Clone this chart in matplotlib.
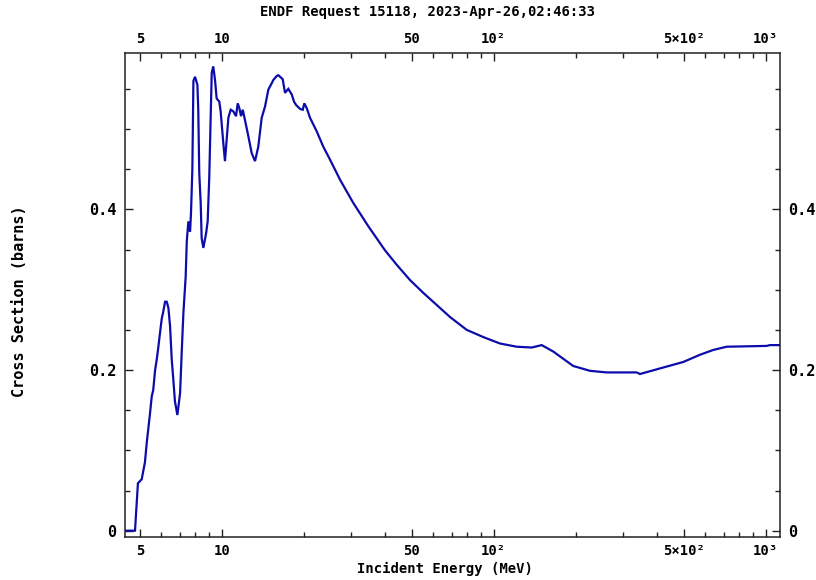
import matplotlib
matplotlib.use("Agg")
import matplotlib.pyplot as plt
from matplotlib.ticker import FixedLocator, NullFormatter, FixedFormatter

# ---- data ----
energy_mev = [4.41, 4.80, 4.84, 4.92, 5.08, 5.22, 5.30, 5.45, 5.53, 5.60, 5.69, 5.77,
              5.85, 5.93, 6.02, 6.10, 6.19, 6.28, 6.37, 6.46, 6.55, 6.64, 6.73, 6.87,
              7.03, 7.13, 7.23, 7.37, 7.44, 7.54, 7.65, 7.71, 7.80, 7.87, 7.98, 8.14,
              8.20, 8.27, 8.37, 8.44, 8.56, 8.76, 8.88, 9.00, 9.19, 9.31, 9.45, 9.58,
              9.80, 9.91, 10.14, 10.28, 10.43, 10.58, 10.79, 11.03, 11.29, 11.45, 11.61,
              11.78, 11.95, 12.18, 12.53, 12.89, 13.26, 13.63, 14.03, 14.43, 14.84, 15.27,
              15.48, 15.93, 16.15, 16.76, 17.09, 17.57, 18.09, 18.45, 18.76, 19.41, 19.86,
              20.13, 20.54, 21.12, 22.36, 23.63, 25.01, 27.22, 30.46, 34.59, 39.85, 44.00,
              49.24, 55.11, 61.71, 69.08, 79.56, 91.58, 105.5, 121.5, 137.9, 150.2, 165.6,
              196.1, 225.9, 260.2, 335.6, 345.1, 408.8, 497.8, 573.5, 641.9, 719.0, 1008.5,
              1037.0, 1129.0]
cross_section_b = [0.0, 0.0, 0.02, 0.059, 0.064, 0.085, 0.109, 0.146, 0.167, 0.175, 0.200, 0.213,
                   0.229, 0.246, 0.264, 0.273, 0.285, 0.285, 0.277, 0.254, 0.213, 0.188, 0.161, 0.144,
                   0.171, 0.223, 0.271, 0.316, 0.360, 0.385, 0.372, 0.395, 0.450, 0.560, 0.565, 0.555,
                   0.524, 0.445, 0.408, 0.364, 0.352, 0.370, 0.385, 0.440, 0.570, 0.578, 0.561, 0.538,
                   0.534, 0.522, 0.482, 0.460, 0.487, 0.514, 0.524, 0.522, 0.516, 0.532, 0.526,
                   0.516, 0.524, 0.511, 0.491, 0.470, 0.460, 0.478, 0.514, 0.528, 0.549, 0.557,
                   0.561, 0.566, 0.567, 0.562, 0.545, 0.550, 0.543, 0.534, 0.530, 0.525, 0.524,
                   0.532, 0.526, 0.514, 0.497, 0.478, 0.462, 0.437, 0.408, 0.379, 0.349, 0.331,
                   0.312, 0.296, 0.281, 0.266, 0.250, 0.241, 0.233, 0.229, 0.228, 0.231, 0.223,
                   0.205, 0.199, 0.197, 0.197, 0.195, 0.202, 0.210, 0.219, 0.225, 0.229, 0.230,
                   0.231, 0.231]

x_major_ticks = [5, 10, 50, 100, 500, 1000]
x_major_labels = ["5", "10", "50", "10²", "5×10²", "10³"]
x_minor_ticks = [6, 7, 8, 9, 20, 30, 40, 60, 70, 80, 90, 200, 300, 400, 600, 700, 800, 900]
y_major_ticks = [0, 0.2, 0.4]
y_major_labels = ["0", "0.2", "0.4"]
y_minor_ticks = [0.05, 0.1, 0.15, 0.25, 0.3, 0.35, 0.45, 0.5, 0.55]

title_text = "ENDF Request 15118, 2023-Apr-26,02:46:33"
xlabel_text = "Incident Energy (MeV)"
ylabel_text = "Cross Section (barns)"

mono = "DejaVu Sans Mono"

fig = plt.figure(figsize=(8.16, 5.80), dpi=100)
ax = fig.add_axes([125 / 816, 1 - 536.7 / 580, (780 - 125) / 816, (536.7 - 52.7) / 580])

ax.plot(energy_mev, cross_section_b, color="#0c0cab", lw=1.6, solid_joinstyle="miter")

ax.set_xscale("log")
ax.set_xlim(4.41, 1129)
ax.set_ylim(-0.0075, 0.595)

ax.xaxis.set_major_locator(FixedLocator(x_major_ticks))
ax.xaxis.set_major_formatter(FixedFormatter(x_major_labels))
ax.xaxis.set_minor_locator(FixedLocator(x_minor_ticks))
ax.xaxis.set_minor_formatter(NullFormatter())
ax.yaxis.set_major_locator(FixedLocator(y_major_ticks))
ax.yaxis.set_major_formatter(FixedFormatter(y_major_labels))
ax.yaxis.set_minor_locator(FixedLocator(y_minor_ticks))
ax.yaxis.set_minor_formatter(NullFormatter())

for s in ax.spines.values():
    s.set_linewidth(1.1)
    s.set_color("#222222")

ax.tick_params(axis="both", which="both", direction="in", color="#222222", width=1.0,
               top=True, right=True, labeltop=True, labelright=True)
ax.tick_params(which="major", length=6)
ax.tick_params(which="minor", length=3.6)
ax.tick_params(axis="x", which="major", pad=5, labelsize=10)
ax.tick_params(axis="y", which="major", pad=6, labelsize=11)

for lab in ax.get_xticklabels() + ax.get_yticklabels():
    lab.set_fontfamily(mono)
    lab.set_fontweight("bold")
for lab in ax.xaxis.get_ticklabels(which="major"):
    lab.set_fontfamily(mono)
for t in ax.xaxis.get_major_ticks():
    t.label1.set_fontfamily(mono); t.label2.set_fontfamily(mono)
    t.label1.set_fontweight("bold"); t.label2.set_fontweight("bold")
for t in ax.yaxis.get_major_ticks():
    t.label1.set_fontfamily(mono); t.label2.set_fontfamily(mono)
    t.label1.set_fontweight("bold"); t.label2.set_fontweight("bold")

fig.text(427 / 816, 1 - 12 / 580, title_text, ha="center", va="center",
         fontsize=10, family=mono, fontweight="bold")
fig.text(444.5 / 816, 1 - 569 / 580, xlabel_text, ha="center", va="center",
         fontsize=10, family=mono, fontweight="bold")
fig.text(20 / 816, 1 - 301 / 580, ylabel_text, ha="center", va="center", rotation=90,
         fontsize=11, family=mono, fontweight="bold")

fig.savefig("out.png", dpi=100)
